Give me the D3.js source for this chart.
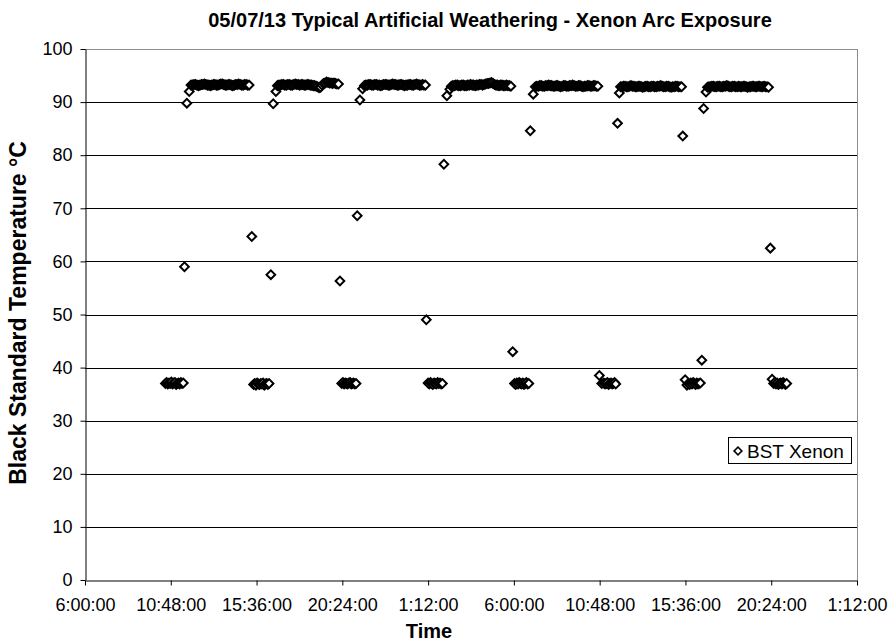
<!DOCTYPE html>
<html>
<head>
<meta charset="utf-8">
<script src="https://cdn.jsdelivr.net/npm/d3@7"></script>
<style>
  html, body { margin: 0; padding: 0; background: #fff; }
  svg { display: block; font-family: "Liberation Sans", Arial, sans-serif; }
</style>
</head>
<body>
<svg id="chart" width="892" height="642"></svg>
<script>
// ---------------- DATA ----------------
const chartTitle = "05/07/13 Typical Artificial Weathering - Xenon Arc Exposure";
const xTitle = "Time";
const yTitle = "Black Standard Temperature °C";
const seriesName = "BST Xenon";

// x axis: minutes elapsed since 05/07/13 06:00:00
const xTickValues = [0, 288, 576, 864, 1152, 1440, 1728, 2016, 2304, 2592];
const xTickLabels = ["6:00:00", "10:48:00", "15:36:00", "20:24:00", "1:12:00",
                     "6:00:00", "10:48:00", "15:36:00", "20:24:00", "1:12:00"];
const yTickValues = [0, 10, 20, 30, 40, 50, 60, 70, 80, 90, 100];

// sample times (minutes since 06:00:00 on 05/07/13)
const times = [
  // low 1
  270,274,278,282,286,290,294,298,302,306,310,314,318,322,326,330,
  334,342,350,
  // high 1
  356,361,366,371,376,381,386,391,396,401,406,411,416,421,426,431,436,441,446,451,
  456,461,466,471,476,481,486,491,496,501,506,511,516,521,526,531,536,541,546,551,
  560,
  // low 2
  566,570,574,578,582,586,590,594,598,602,606,610,614,618,
  624,632,641,
  // high 2
  646,651,656,661,666,671,676,681,686,691,696,701,706,711,716,721,726,731,736,741,746,
  751,756,761,766,771,776,781,786,791,796,801,806,811,816,821,826,831,836,841,846,851,
  856,
  // low 3
  862,866,870,874,878,882,886,890,894,898,902,906,910,
  914,923,932,
  // high 3
  938,943,948,953,958,963,968,973,978,983,988,993,998,1003,1008,1013,1018,1023,1028,1033,1038,
  1043,1048,1053,1058,1063,1068,1073,1078,1083,1088,1093,1098,1103,1108,1113,1118,1123,1128,1133,1138,1143,
  1146,
  // low 4
  1152,1156,1160,1164,1168,1172,1176,1180,1184,1188,1192,1196,1200,
  1205,1215,1225,
  // high 4
  1230,1235,1240,1245,1250,1255,1260,1265,1270,1275,1280,1285,1290,1295,1300,1305,1310,1315,1320,1325,
  1330,1335,1340,1345,1350,1355,1360,1365,1370,1375,1380,1385,1390,1395,1400,1405,1410,1415,1420,1425,1430,
  1436,
  // low 5
  1442,1446,1450,1454,1458,1462,1466,1470,1474,1478,1482,1486,1490,
  1495,1505,
  // high 5
  1512,1517,1522,1527,1532,1537,1542,1547,1552,1557,1562,1567,1572,1577,1582,1587,1592,1597,1602,1607,1612,
  1617,1622,1627,1632,1637,1642,1647,1652,1657,1662,1667,1672,1677,1682,1687,1692,1697,1702,1707,1712,1717,1722,
  1727,1735,
  // low 6
  1742,1746,1750,1754,1758,1762,1766,1770,1774,1778,1782,
  1788,1794,
  // high 6
  1798,1803,1808,1813,1818,1823,1828,1833,1838,1843,1848,1853,1858,1863,1868,1873,1878,1883,1888,1893,1898,
  1903,1908,1913,1918,1923,1928,1933,1938,1943,1948,1953,1958,1963,1968,1973,1978,1983,1988,1993,1998,2003,
  2007,2015,2021,
  // low 7
  2026,2030,2034,2038,2042,2046,2050,2054,2058,2062,2066,
  2071,2077,2085,
  // high 7
  2090,2095,2100,2105,2110,2115,2120,2125,2130,2135,2140,2145,2150,2155,2160,2165,2170,2175,2180,2185,2190,
  2195,2200,2205,2210,2215,2220,2225,2230,2235,2240,2245,2250,2255,2260,2265,2270,2275,2280,2285,2290,2295,
  2301,2307,
  // low 8
  2312,2316,2320,2324,2328,2332,2336,2340,2344,2348,2352,2356
];

// BST Xenon readings, °C
const bstXenon = [
  // low 1
  37.0,37.2,36.9,37.1,37.0,37.3,36.9,37.1,37.2,36.8,37.0,37.1,36.9,37.2,37.0,37.1,
  59.0,89.8,92.0,
  // high 1
  93.2,93.2,93.3,93.3,93.2,93.1,93.2,93.3,93.3,93.4,93.3,93.2,93.2,93.1,93.2,93.3,93.3,93.2,93.2,93.3,
  93.4,93.4,93.3,93.2,93.2,93.3,93.3,93.2,93.1,93.2,93.3,93.3,93.4,93.3,93.2,93.2,93.3,93.3,93.2,93.2,
  64.7,
  // low 2
  36.8,37.0,36.7,37.1,36.9,36.8,37.0,36.9,37.1,36.7,36.9,37.0,36.8,37.0,
  57.5,89.7,92.0,
  // high 2
  93.1,93.2,93.2,93.3,93.3,93.2,93.2,93.3,93.3,93.2,93.2,93.3,93.4,93.3,93.3,93.2,93.3,93.3,93.2,93.2,93.3,
  93.3,93.2,93.2,93.1,93.1,93.0,92.9,92.7,92.8,93.2,93.5,93.6,93.8,93.7,93.6,93.6,93.5,93.6,93.5,93.4,93.4,
  56.3,
  // low 3
  37.0,37.2,36.9,37.1,37.0,36.9,37.1,37.2,36.9,37.0,37.1,36.9,37.0,
  68.6,90.4,92.5,
  // high 3
  93.1,93.2,93.2,93.3,93.3,93.2,93.2,93.3,93.3,93.2,93.2,93.1,93.2,93.3,93.3,93.3,93.2,93.2,93.3,93.4,93.3,
  93.3,93.2,93.2,93.3,93.3,93.2,93.1,93.2,93.2,93.3,93.3,93.2,93.2,93.3,93.4,93.3,93.2,93.2,93.3,93.2,93.2,
  49.0,
  // low 4
  37.1,36.9,37.2,37.0,36.8,37.1,37.0,36.9,37.2,37.0,37.1,36.9,37.0,
  78.3,91.2,92.4,
  // high 4
  93.0,93.1,93.1,93.2,93.2,93.1,93.1,93.2,93.2,93.1,93.1,93.2,93.2,93.3,93.2,93.2,93.1,93.2,93.2,93.3,
  93.3,93.2,93.3,93.4,93.5,93.5,93.6,93.7,93.5,93.3,93.2,93.2,93.1,93.2,93.2,93.1,93.1,93.2,93.1,93.1,93.0,
  43.0,
  // low 5
  37.0,36.8,37.1,36.9,37.2,37.0,36.9,37.1,36.8,37.0,37.2,36.9,37.0,
  84.6,91.5,
  // high 5
  92.9,93.0,93.0,93.1,93.1,93.0,93.0,93.1,93.1,93.2,93.1,93.1,93.0,93.0,93.1,93.1,93.0,92.9,93.0,93.1,93.1,
  93.0,93.0,93.1,93.1,93.2,93.1,93.0,93.0,93.1,93.1,93.0,92.9,93.0,93.0,93.1,93.1,93.0,93.0,93.1,93.1,93.0,93.0,
  38.5,37.0,
  // low 6
  37.1,36.9,37.0,37.2,36.8,37.0,37.1,36.9,37.0,37.2,36.9,
  86.0,91.7,
  // high 6
  92.9,92.9,93.0,93.0,92.9,92.9,93.0,93.1,93.0,93.0,92.9,92.9,93.0,93.0,92.9,92.8,92.9,93.0,93.0,92.9,92.9,
  93.0,93.0,92.9,92.9,93.0,93.0,93.1,93.0,92.9,92.9,93.0,93.0,92.9,92.8,92.9,92.9,93.0,93.0,92.9,92.9,92.9,
  83.6,37.7,36.7,
  // low 7
  37.0,36.8,37.1,36.9,37.2,37.0,36.8,37.1,36.9,37.0,37.1,
  41.4,88.8,91.9,
  // high 7
  92.8,92.9,92.9,93.0,93.0,92.9,92.9,93.0,93.0,92.9,92.9,93.0,93.0,93.1,93.0,92.9,92.9,93.0,93.0,92.9,92.9,
  93.0,92.9,92.9,93.0,93.0,92.9,92.8,92.9,92.9,93.0,93.0,92.9,92.9,93.0,93.0,92.9,92.9,93.0,92.9,92.9,92.8,
  62.5,37.8,
  // low 8
  37.0,37.2,36.9,37.1,36.8,37.0,37.1,36.9,37.2,37.0,36.8,37.0
];

// ---------------- CHART ----------------
const svg = d3.select("#chart");
const plot = { left: 85, right: 857, top: 49, bottom: 580 };

const x = d3.scaleLinear().domain([0, 2592]).range([plot.left, plot.right]);
const y = d3.scaleLinear().domain([0, 100]).range([plot.bottom, plot.top]);

if (times.length !== bstXenon.length) console.warn("length mismatch", times.length, bstXenon.length);
const n = Math.min(times.length, bstXenon.length);
const points = d3.range(n).map(i => ({ t: times[i], v: bstXenon[i] }));

// plot frame (top & right, gray)
svg.append("line").attr("x1", plot.left).attr("x2", plot.right)
  .attr("y1", y(100) + 0.5).attr("y2", y(100) + 0.5).attr("stroke", "#8c8c8c").attr("stroke-width", 1);
svg.append("line").attr("x1", plot.right + 0.5).attr("x2", plot.right + 0.5)
  .attr("y1", plot.top).attr("y2", plot.bottom).attr("stroke", "#8c8c8c").attr("stroke-width", 1);

// gridlines
svg.append("g").selectAll("line")
  .data(yTickValues.filter(v => v > 0 && v < 100))
  .join("line")
  .attr("x1", plot.left).attr("x2", plot.right)
  .attr("y1", d => Math.round(y(d)) + 0.5).attr("y2", d => Math.round(y(d)) + 0.5)
  .attr("stroke", "#000").attr("stroke-width", 1);

// y axis
const yAxis = svg.append("g")
  .attr("transform", `translate(${plot.left + 0.5},0)`)
  .call(d3.axisLeft(y).tickValues(yTickValues).tickSize(5).tickPadding(8).tickSizeOuter(0));
yAxis.select(".domain").attr("stroke", "#000");
yAxis.selectAll(".tick line").attr("stroke", "#000");
yAxis.selectAll(".tick text").attr("font-size", 18).attr("fill", "#000")
  .attr("font-family", "Liberation Sans, Arial, sans-serif");

// x axis
const xAxis = svg.append("g")
  .attr("transform", `translate(0,${plot.bottom + 0.5})`)
  .call(d3.axisBottom(x).tickValues(xTickValues)
    .tickFormat((d, i) => xTickLabels[i]).tickSize(5).tickPadding(13).tickSizeOuter(0));
xAxis.select(".domain").attr("stroke", "#000");
xAxis.selectAll(".tick line").attr("stroke", "#000");
xAxis.selectAll(".tick text").attr("font-size", 18).attr("fill", "#000")
  .attr("font-family", "Liberation Sans, Arial, sans-serif");

// markers (hollow diamonds)
const diamond = d3.symbol().type(d3.symbolSquare).size(38)();
svg.append("g").selectAll("path")
  .data(points)
  .join("path")
  .attr("d", diamond)
  .attr("transform", d => `translate(${x(d.t)},${y(d.v)}) rotate(45)`)
  .attr("fill", "#fff")
  .attr("stroke", "#000")
  .attr("stroke-width", 2);

// title
svg.append("text")
  .attr("x", 490).attr("y", 27)
  .attr("text-anchor", "middle")
  .attr("font-size", 20).attr("font-weight", "bold")
  .text(chartTitle);

// x title
svg.append("text")
  .attr("x", 429).attr("y", 638)
  .attr("text-anchor", "middle")
  .attr("font-size", 20).attr("font-weight", "bold")
  .text(xTitle);

// y title
svg.append("text")
  .attr("transform", `translate(26,313) rotate(-90)`)
  .attr("text-anchor", "middle")
  .attr("font-size", 23).attr("font-weight", "bold")
  .text(yTitle);

// legend
const lg = svg.append("g").attr("transform", "translate(728,437)");
lg.append("rect").attr("x", 0.5).attr("y", 0.5).attr("width", 123).attr("height", 26)
  .attr("fill", "#fff").attr("stroke", "#000").attr("stroke-width", 1);
lg.append("path").attr("d", d3.symbol().type(d3.symbolSquare).size(30)())
  .attr("transform", "translate(10,14) rotate(45)")
  .attr("fill", "#fff").attr("stroke", "#000").attr("stroke-width", 1.6);
lg.append("text").attr("x", 19).attr("y", 20.5)
  .attr("font-size", 19)
  .text(seriesName);
</script>
</body>
</html>
